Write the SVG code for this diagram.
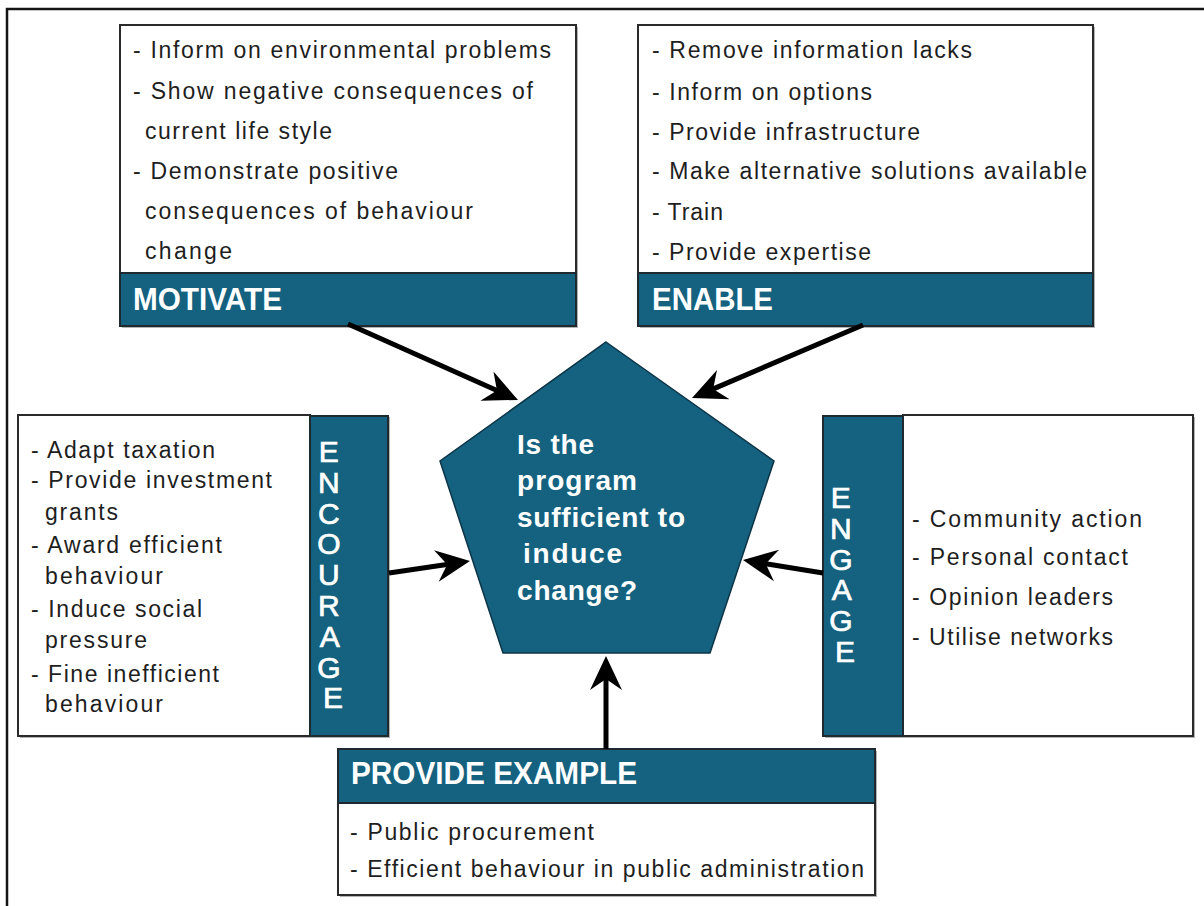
<svg xmlns="http://www.w3.org/2000/svg" width="1204" height="906" viewBox="0 0 1204 906">
  <defs>
    <style>
      .frame { fill: none; stroke: #151515; stroke-width: 2.5; }
      .shadow { fill: #b4b4b4; }
      .box { fill: #ffffff; stroke: #2a2a2a; stroke-width: 2; }
      .band { fill: #14627f; stroke: #1f2a30; stroke-width: 2; }
      .penta { fill: #14627f; stroke: #0d3447; stroke-width: 1.5; }
      .body { font-family: "Liberation Sans", Arial, sans-serif; font-size: 23px; fill: #1e1e1e; }
      .head { font-family: "Liberation Sans", Arial, sans-serif; font-size: 31px; font-weight: bold; fill: #ffffff; }
      .vert { font-family: "Liberation Sans", Arial, sans-serif; font-size: 30px; fill: #ffffff; stroke: #ffffff; stroke-width: 0.7; text-anchor: middle; }
      .q { font-family: "Liberation Sans", Arial, sans-serif; font-size: 28px; font-weight: bold; fill: #ffffff; }
      .arrow { stroke: #000000; stroke-width: 5; fill: none; marker-end: url(#ah); }
    </style>
    <!-- concave arrowhead; its tip sits 20 units past the end of the line -->
    <marker id="ah" viewBox="-36 -18 40 36" markerWidth="40" markerHeight="36" refX="-20" refY="0" orient="auto" markerUnits="userSpaceOnUse">
      <path d="M0,0 L-34,-16 L-23,0 L-34,16 Z" fill="#000000"/>
    </marker>
  </defs>

  <rect width="1204" height="906" fill="#ffffff"/>
  <rect class="frame" x="7" y="9" width="1220" height="920"/>

  <!-- MOTIVATE -->
  <g id="motivate">
    <rect class="shadow" x="122" y="27" width="456" height="301"/>
    <rect class="box" x="120" y="25" width="456" height="301"/>
    <rect class="band" x="120" y="273" width="456" height="53"/>
    <text class="body" x="133" y="58" textLength="418">- Inform on environmental problems</text>
    <text class="body" x="133" y="99" textLength="400">- Show negative consequences of</text>
    <text class="body" x="145" y="139" textLength="187">current life style</text>
    <text class="body" x="133" y="179" textLength="265">- Demonstrate positive</text>
    <text class="body" x="145" y="219" textLength="328">consequences of behaviour</text>
    <text class="body" x="145" y="259" textLength="87">change</text>
    <text class="head" x="133" y="310" textLength="149" lengthAdjust="spacingAndGlyphs">MOTIVATE</text>
  </g>

  <!-- ENABLE -->
  <g id="enable">
    <rect class="shadow" x="640" y="27" width="455" height="301"/>
    <rect class="box" x="638" y="25" width="455" height="301"/>
    <rect class="band" x="638" y="273" width="455" height="53"/>
    <text class="body" x="652" y="58" textLength="320">- Remove information lacks</text>
    <text class="body" x="652" y="100" textLength="220">- Inform on options</text>
    <text class="body" x="652" y="140" textLength="268">- Provide infrastructure</text>
    <text class="body" x="652" y="179" textLength="435">- Make alternative solutions available</text>
    <text class="body" x="652" y="220" textLength="71">- Train</text>
    <text class="body" x="652" y="260" textLength="219">- Provide expertise</text>
    <text class="head" x="652" y="310" textLength="121" lengthAdjust="spacingAndGlyphs">ENABLE</text>
  </g>

  <!-- ENCOURAGE -->
  <g id="encourage">
    <rect class="shadow" x="20" y="417" width="370" height="321"/>
    <rect class="box" x="18" y="415" width="292" height="321"/>
    <rect class="band" x="310" y="416" width="78" height="320"/>
    <text class="body" x="31" y="458" textLength="184">- Adapt taxation</text>
    <text class="body" x="31" y="488" textLength="241">- Provide investment</text>
    <text class="body" x="45" y="520" textLength="73">grants</text>
    <text class="body" x="31" y="553" textLength="191">- Award efficient</text>
    <text class="body" x="45" y="584" textLength="118">behaviour</text>
    <text class="body" x="31" y="617" textLength="171">- Induce social</text>
    <text class="body" x="45" y="648" textLength="102">pressure</text>
    <text class="body" x="31" y="682" textLength="188">- Fine inefficient</text>
    <text class="body" x="45" y="712" textLength="118">behaviour</text>
    <text class="vert">
      <tspan x="333" y="462">E</tspan>
      <tspan x="333" y="492.8">N</tspan>
      <tspan x="333" y="523.6">C</tspan>
      <tspan x="333" y="554.4">O</tspan>
      <tspan x="333" y="585.2">U</tspan>
      <tspan x="333" y="616">R</tspan>
      <tspan x="333" y="646.8">A</tspan>
      <tspan x="333" y="677.6">G</tspan>
      <tspan x="333" y="708.4">E</tspan>
    </text>
  </g>

  <!-- ENGAGE -->
  <g id="engage">
    <rect class="shadow" x="825" y="417" width="370" height="321"/>
    <rect class="box" x="903" y="415" width="290" height="321"/>
    <rect class="band" x="823" y="416" width="80" height="320"/>
    <text class="body" x="912" y="527" textLength="230">- Community action</text>
    <text class="body" x="912" y="565" textLength="216">- Personal contact</text>
    <text class="body" x="912" y="605" textLength="201">- Opinion leaders</text>
    <text class="body" x="912" y="645" textLength="201">- Utilise networks</text>
    <text class="vert">
      <tspan x="845" y="508">E</tspan>
      <tspan x="845" y="538.8">N</tspan>
      <tspan x="845" y="569.6">G</tspan>
      <tspan x="845" y="600.4">A</tspan>
      <tspan x="845" y="631.2">G</tspan>
      <tspan x="845" y="662">E</tspan>
    </text>
  </g>

  <!-- PROVIDE EXAMPLE -->
  <g id="provide-example">
    <rect class="shadow" x="340" y="751" width="537" height="146"/>
    <rect class="box" x="338" y="749" width="537" height="146"/>
    <rect class="band" x="338" y="749" width="537" height="54"/>
    <text class="head" x="351" y="784" textLength="286" lengthAdjust="spacingAndGlyphs">PROVIDE EXAMPLE</text>
    <text class="body" x="350" y="840" textLength="244">- Public procurement</text>
    <text class="body" x="350" y="877" textLength="514">- Efficient behaviour in public administration</text>
  </g>

  <!-- central question -->
  <g id="question">
    <polygon class="penta" points="606,342 774,461 710,653 503,653 440,461"/>
    <text class="q" x="517" y="454" textLength="77">Is the</text>
    <text class="q" x="517" y="490" textLength="120">program</text>
    <text class="q" x="517" y="527" textLength="168">sufficient to</text>
    <text class="q" x="523" y="563" textLength="99">induce</text>
    <text class="q" x="517" y="600" textLength="120">change?</text>
  </g>

  <!-- connectors -->
  <g id="connectors">
    <line class="arrow" x1="348" y1="324" x2="499.7" y2="391.8"/>
    <line class="arrow" x1="863" y1="325" x2="710.4" y2="390.1"/>
    <line class="arrow" x1="389" y1="573" x2="450.2" y2="564"/>
    <line class="arrow" x1="823" y1="573" x2="762.7" y2="563.2"/>
    <line class="arrow" x1="606" y1="749" x2="606" y2="676"/>
  </g>
</svg>
